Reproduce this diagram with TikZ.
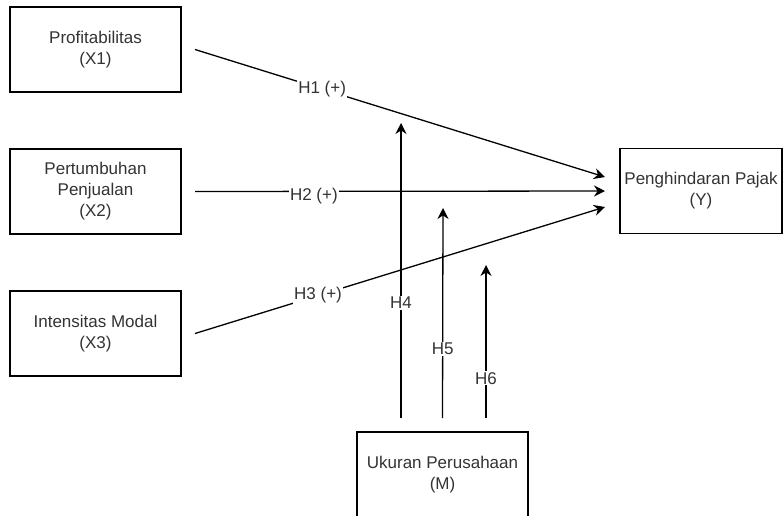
\documentclass[tikz,border=0pt]{standalone}
\usepackage{fontspec}
\setmainfont{Liberation Sans}
\usetikzlibrary{arrows.meta}
\begin{document}
\begin{tikzpicture}
  [x=1pt,y=-1pt,
   var/.style={rectangle,draw=black,line width=1.3pt,fill=white,align=center,
               outer sep=0,inner sep=3pt,minimum width=171pt,minimum height=85pt,
               font=\fontsize{17}{21}\selectfont,text=black!80},
   link/.style={line width=1.3pt,-{Stealth[length=11pt,width=11pt]}},
   hyp/.style={fill=white,inner sep=1pt,font=\fontsize{17}{21}\selectfont,text=black!80}]
  \useasboundingbox (0,0) rectangle (783,515);
  % independent variables
  \node[var] (x1) at (95.5,49.5) {Profitabilitas\\(X1)};
  \node[var] (x2) at (95.5,191.5) {Pertumbuhan\\Penjualan\\(X2)};
  \node[var] (x3) at (95.5,333.5) {Intensitas Modal\\(X3)};
  % dependent and moderating
  \node[var,minimum width=162pt] (y) at (701,191) {Penghindaran Pajak\\(Y)};
  \node[var] (m) at (442.5,474.5) {Ukuran Perusahaan\\(M)};
  \coordinate (h4tip) at (401,123);
  \coordinate (h5tip) at (443,208);
  \coordinate (h6tip) at (486,265);
  \draw[link] ([xshift=14pt]x1.east) -- node[hyp,pos=0.31] {H1 (+)} ([xshift=-15pt,yshift=14pt]y.west);
  \draw[link] ([xshift=14pt]x2.east) -- node[hyp,pos=0.29,yshift=-5pt] {H2 (+)} ([xshift=-15pt]y.west);
  \draw[link] ([xshift=14pt]x3.east) -- node[hyp,pos=0.30] {H3 (+)} ([xshift=-15pt,yshift=-16pt]y.west);
  \draw[link] ([xshift=-41.5pt,yshift=14pt]m.north) -- node[hyp,pos=0.39] {H4} (h4tip);
  \draw[link] ([yshift=14pt]m.north) -- node[hyp,pos=0.33] {H5} (h5tip);
  \draw[link] ([xshift=43.5pt,yshift=14pt]m.north) -- node[hyp,pos=0.26] {H6} (h6tip);
\end{tikzpicture}
\end{document}
